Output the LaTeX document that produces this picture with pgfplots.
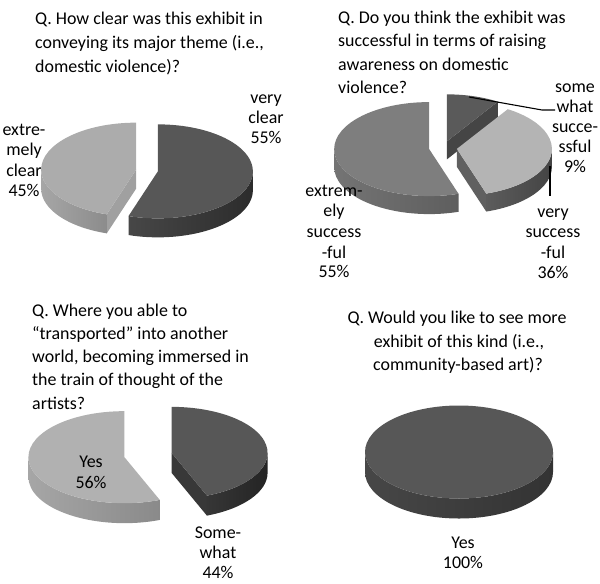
\documentclass[border=0pt]{standalone}
\usepackage{fontspec}
\setmainfont{Carlito}
\usepackage{pgfplots}
\pgfplotsset{compat=1.18}
\usetikzlibrary{calc}

\definecolor{aLt}{HTML}{ACACAC}\definecolor{aLsL}{HTML}{A6A6A6}\definecolor{aLsR}{HTML}{8C8C8C}\definecolor{aLw}{HTML}{A0A0A0}
\definecolor{aDt}{HTML}{575757}\definecolor{aDsL}{HTML}{474747}\definecolor{aDsR}{HTML}{2C2C2C}\definecolor{aDw}{HTML}{404040}
\definecolor{bEt}{HTML}{7E7E7E}\definecolor{bEsL}{HTML}{747474}\definecolor{bEsR}{HTML}{5E5E5E}\definecolor{bEw}{HTML}{6A6A6A}
\definecolor{bSt}{HTML}{5A5A5A}\definecolor{bSw}{HTML}{454545}
\definecolor{bVt}{HTML}{B4B4B4}\definecolor{bVsL}{HTML}{5C5C5C}\definecolor{bVsR}{HTML}{444444}\definecolor{bVw}{HTML}{606060}
\definecolor{cYt}{HTML}{B1B1B1}\definecolor{cYsL}{HTML}{A6A6A6}\definecolor{cYsR}{HTML}{8A8A8A}\definecolor{cYw}{HTML}{B8B8B8}
\definecolor{cSt}{HTML}{575757}\definecolor{cSsL}{HTML}{363636}\definecolor{cSsR}{HTML}{242424}\definecolor{cSw}{HTML}{383838}
\definecolor{dt}{HTML}{575757}\definecolor{dsL}{HTML}{474747}\definecolor{dsR}{HTML}{333333}

% #1 cumulative start (%), #2 share (%), #3 top colour, #4/#5 side colours, #6 wall colour
\newcommand\pieslice[6]{%
  \pgfmathsetmacro\pb{90-3.6*#1}%
  \pgfmathsetmacro\pa{\pb-3.6*#2}%
  \pgfmathsetmacro\pmid{(\pa+\pb)/2}%
  \pgfmathsetmacro\cx{\BX+\EX*cos(\pmid)}%
  \pgfmathsetmacro\cy{\BY-\EX*\RY/\RX*sin(\pmid)}%
  \pgfmathsetmacro\sa{max(\pa,-180)}%
  \pgfmathsetmacro\sb{min(\pb,0)}%
  \pgfmathsetmacro\sd{\sb-\sa}%
  \pgfmathsetmacro\cosa{cos(\pa)}%
  \pgfmathsetmacro\cosb{cos(\pb)}%
  \ifdim\cosa pt>0.001pt
    \edef\tmp{\noexpand\fill[#6] (axis cs:\cx,\cy) -- ($(axis cs:\cx,\cy)+(\pa:\RX bp and \RY bp)$) -- ++(0bp,-\D bp) -- ($(axis cs:\cx,\cy)+(0bp,-\D bp)$) -- cycle;}\tmp
  \fi
  \ifdim\cosb pt<-0.001pt
    \edef\tmp{\noexpand\fill[#6] (axis cs:\cx,\cy) -- ($(axis cs:\cx,\cy)+(\pb:\RX bp and \RY bp)$) -- ++(0bp,-\D bp) -- ($(axis cs:\cx,\cy)+(0bp,-\D bp)$) -- cycle;}\tmp
  \fi
  \ifdim\sd pt>0.01pt
    \edef\tmp{\noexpand\shade[left color=#4,right color=#5] ($(axis cs:\cx,\cy)+(\sa:\RX bp and \RY bp)$) arc[start angle=\sa, end angle=\sb, x radius=\RX bp, y radius=\RY bp] -- ++(0bp,-\D bp) arc[start angle=\sb, end angle=\sa, x radius=\RX bp, y radius=\RY bp] -- cycle;}\tmp
  \fi
  \edef\tmp{\noexpand\fill[#3] (axis cs:\cx,\cy) -- ($(axis cs:\cx,\cy)+(\pa:\RX bp and \RY bp)$) arc[start angle=\pa, end angle=\pb, x radius=\RX bp, y radius=\RY bp] -- cycle;}\tmp
}
\newcommand\fsz{\fontsize{18}{22}\selectfont}

\begin{document}
\begin{tikzpicture}
\begin{axis}[scale only axis, width=600bp, height=583bp,
  xmin=0, xmax=600, ymin=0, ymax=583, y dir=reverse,
  axis lines=none, ticks=none, clip=false]
\addplot[draw=none] coordinates {(0,0) (600,583)};
% ---------- Pie 1 ----------
\def\RX{95}\def\RY{47}\def\D{19}\def\BX{147}\def\BY{170.5}\def\EX{11}
\pieslice{0}{55}{aDt}{aDsL}{aDsR}{aDw}
\pieslice{55}{45}{aLt}{aLsL}{aLsR}{aLw}
% ---------- Pie 2 ----------
\def\RX{95}\def\RY{47}\def\D{18}\def\BX{443}\def\BY{148}\def\EX{14}
\pieslice{0}{9}{bSt}{bSw}{bSw}{bSw}
\pieslice{9}{36}{bVt}{bVsL}{bVsR}{bVw}
\pieslice{45}{55}{bEt}{bEsL}{bEsR}{bEw}
% ---------- Pie 3 ----------
\def\RX{96}\def\RY{46}\def\D{20}\def\BX{148}\def\BY{455}\def\EX{24}
\pieslice{0}{44}{cSt}{cSsL}{cSsR}{cSw}
\pieslice{44}{56}{cYt}{cYsL}{cYsR}{cYw}
% ---------- Pie 4 ----------
\def\RX{94}\def\RY{46.5}\def\D{20}\def\BX{459}\def\BY{452}\def\EX{0}
\pieslice{0}{100}{dt}{dsL}{dsR}{dt}
% ---------- leader lines ----------
\draw[line width=1.1pt] (axis cs:469,97) -- (axis cs:542,110) -- (axis cs:555,110);
\draw[line width=1.1pt] (axis cs:550,166) -- (axis cs:550,196);
% ---------- titles ----------
\begin{scope}[every node/.style={font=\fsz, inner sep=0pt, text=black}]
\node[anchor=base west] at (axis cs:35,25) {Q. How clear was this exhibit in};
\node[anchor=base west] at (axis cs:35,48.5) {conveying its major theme (i.e.,};
\node[anchor=base west] at (axis cs:35,72) {domestic violence)?};
\node[anchor=base west] at (axis cs:338,24) {Q. Do you think the exhibit was};
\node[anchor=base west] at (axis cs:338,47) {successful in terms of raising};
\node[anchor=base west] at (axis cs:338,70) {awareness on domestic};
\node[anchor=base west] at (axis cs:338,93) {violence?};
\node[anchor=base west] at (axis cs:32,316) {Q. Where you able to};
\node[anchor=base west] at (axis cs:32,339) {“transported” into another};
\node[anchor=base west] at (axis cs:32,362) {world, becoming immersed in};
\node[anchor=base west] at (axis cs:32,385.5) {the train of thought of the};
\node[anchor=base west] at (axis cs:32,409) {artists?};
\node[anchor=base] at (axis cs:457,323) {Q. Would you like to see more};
\node[anchor=base] at (axis cs:459,347) {exhibit of this kind (i.e.,};
\node[anchor=base] at (axis cs:458,370) {community-based art)?};
% ---------- slice labels ----------
\node[anchor=base] at (axis cs:266,103) {very};
\node[anchor=base] at (axis cs:266,123) {clear};
\node[anchor=base] at (axis cs:266,143) {55\%};
\node[anchor=base] at (axis cs:24,135) {extre-};
\node[anchor=base] at (axis cs:24,155.5) {mely};
\node[anchor=base] at (axis cs:24,176) {clear};
\node[anchor=base] at (axis cs:24,196.5) {45\%};
\node[anchor=base] at (axis cs:575,92) {some};
\node[anchor=base] at (axis cs:575,112) {what};
\node[anchor=base] at (axis cs:575,132.5) {succe-};
\node[anchor=base] at (axis cs:575,152.5) {ssful};
\node[anchor=base] at (axis cs:575,172) {9\%};
\node[anchor=base] at (axis cs:553,217) {very};
\node[anchor=base] at (axis cs:553,237.5) {success};
\node[anchor=base] at (axis cs:553,258) {-ful};
\node[anchor=base] at (axis cs:553,278) {36\%};
\node[anchor=base] at (axis cs:334,196.5) {extrem-};
\node[anchor=base] at (axis cs:334,216.5) {ely};
\node[anchor=base] at (axis cs:334,237.5) {success};
\node[anchor=base] at (axis cs:334,258) {-ful};
\node[anchor=base] at (axis cs:334,277.5) {55\%};
\node[anchor=base] at (axis cs:91,467) {Yes};
\node[anchor=base] at (axis cs:91,488) {56\%};
\node[anchor=base] at (axis cs:218,538) {Some-};
\node[anchor=base] at (axis cs:218,558) {what};
\node[anchor=base] at (axis cs:218,578) {44\%};
\node[anchor=base] at (axis cs:463,548) {Yes};
\node[anchor=base] at (axis cs:463,568) {100\%};
\end{scope}
\end{axis}
\end{tikzpicture}
\end{document}
